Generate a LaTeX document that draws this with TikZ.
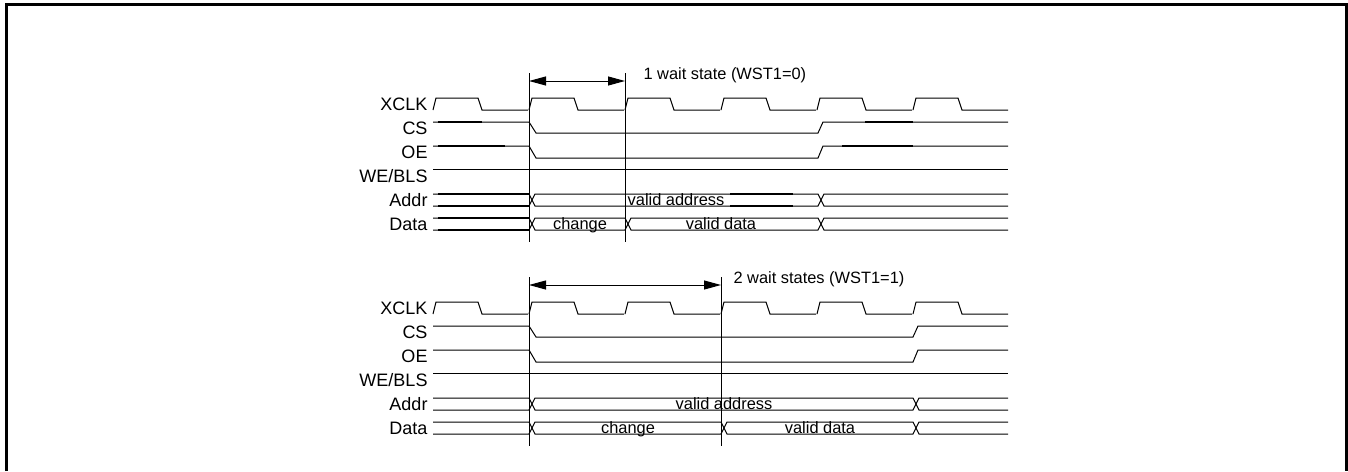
\documentclass[tikz,border=0pt]{standalone}
\usepackage{fontspec}
\setmainfont{Liberation Sans}
\usetikzlibrary{arrows.meta}

\begin{document}
\begin{tikzpicture}[x=0.5pt, y=-0.5pt, line width=0.5pt,
	sig/.style={font=\fontsize{9}{10}\selectfont, anchor=base east, inner sep=0pt},
	txt/.style={font=\fontsize{8.2}{10}\selectfont, anchor=base, inner sep=0pt},
	heavy/.style={line width=1pt},
	span/.style={{Triangle[length=8.5pt,width=4.5pt]}-{Triangle[length=8.5pt,width=4.5pt]}}]
		\useasboundingbox (0,0) rectangle (1348,471);
		% frame, open at the bottom
		\draw[line width=1.5pt] (6.5,471) -- (6.5,4.8) -- (1346.5,4.8) -- (1346.5,471);
		
		% clock, labels and WE/BLS are the same in both diagrams
		\foreach \dy/\n in {0/one, 204/two}{
			\foreach \r in {433,529,...,913}
				\draw (\r,110+\dy) -- (\r+3,98+\dy) -- (\r+45,98+\dy) -- (\r+49,110+\dy) -- (\r+95,110+\dy);
			\node[sig] (xclk-\n) at (428,110+\dy) {XCLK};
			\node[sig] (cs-\n) at (428,134+\dy) {CS};
			\node[sig] (oe-\n) at (428,158+\dy) {OE};
			\node[sig] (we-\n) at (428,182+\dy) {WE/BLS};
			\node[sig] (addr-\n) at (428,206+\dy) {Addr};
			\node[sig] (data-\n) at (428,230+\dy) {Data};
			\draw (433,169+\dy) -- (1008,169+\dy);
		}
		
		% 1 wait state
		\draw (433,122) -- (529,122) -- (536,133) -- (818,133) -- (823,122) -- (1008,122);
		\draw (433,146) -- (529,146) -- (536,158) -- (818,158) -- (823,146) -- (1008,146);
		\draw (433,194) -- (529,194) -- (535,206) -- (818,206) -- (824,194) -- (1008,194);
		\draw (433,206) -- (529,206) -- (535,194) -- (818,194) -- (824,206) -- (1008,206);
		\draw (433,218) -- (529,218) -- (535,230) -- (625,230) -- (631,218) -- (818,218) -- (824,230) -- (1008,230);
		\draw (433,230) -- (529,230) -- (535,218) -- (625,218) -- (631,230) -- (818,230) -- (824,218) -- (1008,218);
		\draw[heavy] (438,122) -- (482,122) (865,122) -- (913,122);
		\draw[heavy] (438,146) -- (505,146) (842,146) -- (913,146);
		\draw[heavy] (438,194) -- (529,194) (438,206) -- (529,206);
		\draw[heavy] (438,218) -- (529,218) (438,230) -- (529,230);
		\draw[heavy] (730,194) -- (793,194) (730,206) -- (793,206);
		\node[txt] (addr1) at (676,205) {valid address};
		\node[txt] (chg1) at (580,229) {change};
		\node[txt] (val1) at (721,229) {valid data};
		
		\coordinate (mA1) at (529,73);
		\coordinate (mB1) at (625,73);
		\draw (mA1) -- ++(0,169);
		\draw (mB1) -- ++(0,169);
		\coordinate (pA1) at (529,81);
		\coordinate (pB1) at (625,81);
		\draw[span] (pA1) -- (pB1);
		\node[txt, anchor=base west] (ws1) at (643,79) {1 wait state (WST1=0)};
		
		% 2 wait states
		\draw (433,326) -- (529,326) -- (536,337) -- (913,337) -- (918,326) -- (1008,326);
		\draw (433,350) -- (529,350) -- (536,362) -- (913,362) -- (918,350) -- (1008,350);
		\draw (433,398) -- (529,398) -- (535,410) -- (913,410) -- (919,398) -- (1008,398);
		\draw (433,410) -- (529,410) -- (535,398) -- (913,398) -- (919,410) -- (1008,410);
		\draw (433,422) -- (529,422) -- (535,434) -- (721,434) -- (727,422) -- (913,422) -- (919,434) -- (1008,434);
		\draw (433,434) -- (529,434) -- (535,422) -- (721,422) -- (727,434) -- (913,434) -- (919,422) -- (1008,422);
		\node[txt] (addr2) at (724,409) {valid address};
		\node[txt] (chg2) at (628,433) {change};
		\node[txt] (val2) at (820,433) {valid data};
		
		\coordinate (mA2) at (529,277);
		\coordinate (mB2) at (721,277);
		\draw (mA2) -- ++(0,169);
		\draw (mB2) -- ++(0,169);
		\coordinate (pA2) at (529,285);
		\coordinate (pB2) at (721,285);
		\draw[span] (pA2) -- (pB2);
		\node[txt, anchor=base west] (ws2) at (733,283) {2 wait states (WST1=1)};
	\end{tikzpicture}
\end{document}
